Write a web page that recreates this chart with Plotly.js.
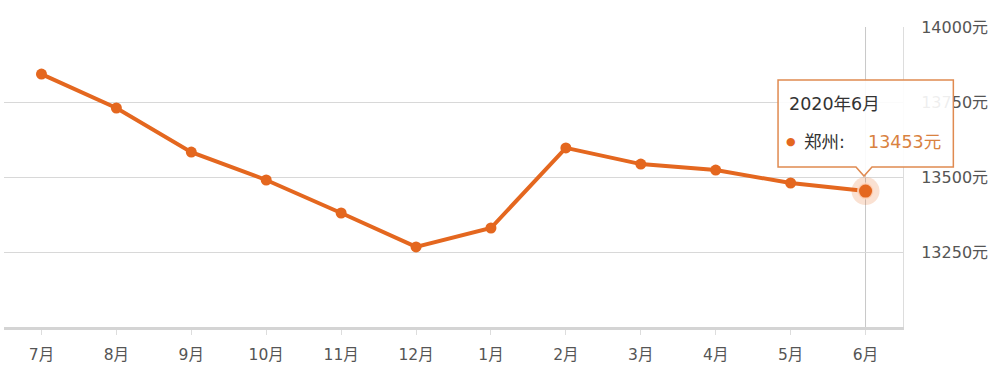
<!DOCTYPE html>
<html>
<head>
<meta charset="utf-8">
<script src="https://cdn.plot.ly/plotly-3.0.1.min.js"></script>
<style>html,body{margin:0;padding:0;background:#fff;}#chart{width:1000px;height:372px;}</style>
</head>
<body>
<div id="chart"></div>
<script>
const months = ["7月","8月","9月","10月","11月","12月","1月","2月","3月","4月","5月","6月"];
const prices = [13843, 13730, 13583, 13490, 13380, 13267, 13330, 13597, 13543, 13523, 13480, 13453];
const yTickVals = [13250, 13500, 13750, 14000];
const yTickText = ["13250元", "13500元", "13750元", "14000元"];
const cityName = "郑州";
const tooltipTitle = "2020年6月";

const orange = "#e4671f";
const font = "DejaVu Sans, Noto Sans CJK SC, sans-serif";
const lastIdx = prices.length - 1;

const traces = [
  {
    x: [months[lastIdx]], y: [prices[lastIdx]],
    type: "scatter", mode: "markers",
    marker: {size: 28, color: "rgba(228,103,31,0.2)", line: {width: 0}},
    hoverinfo: "skip", showlegend: false
  },
  {
    x: months, y: prices,
    type: "scatter", mode: "lines+markers",
    line: {color: orange, width: 4},
    marker: {size: 11, color: orange, line: {width: 0}},
    hoverinfo: "skip", showlegend: false
  },
  {
    x: [months[lastIdx]], y: [prices[lastIdx]],
    type: "scatter", mode: "markers",
    marker: {size: 15, color: orange, line: {width: 2, color: "rgba(255,220,200,0.8)"}},
    hoverinfo: "skip", showlegend: false
  }
];

const layout = {
  width: 1000, height: 372,
  margin: {l: 4, r: 97, t: 27, b: 45},
  paper_bgcolor: "#fff", plot_bgcolor: "#fff",
  font: {family: font, size: 16, color: "#555"},
  xaxis: {
    type: "category",
    categoryorder: "array", categoryarray: months,
    range: [-0.5, months.length - 0.5],
    showgrid: false, zeroline: false,
    showline: true, linecolor: "#d4d4d4", linewidth: 3,
    ticks: "outside", ticklen: 5, tickcolor: "#ddd", tickwidth: 1,
    ticklabelstandoff: 6,
    tickfont: {family: font, size: 15.5, color: "#555"}
  },
  yaxis: {
    side: "right",
    range: [13000, 14000],
    tickvals: yTickVals, ticktext: yTickText,
    showgrid: true, gridcolor: "#d8d8d8", gridwidth: 1,
    zeroline: false,
    showline: true, linecolor: "#dddddd", linewidth: 1, mirror: false,
    ticks: "", ticklabelstandoff: 14,
    tickfont: {family: font, size: 16, color: "#555"}
  },
  shapes: [
    {type: "line", xref: "x", yref: "paper", x0: months[lastIdx], x1: months[lastIdx], y0: 0, y1: 1,
     line: {color: "#c8c8c8", width: 1}, layer: "below"},
    {type: "path", xref: "paper", yref: "paper",
     path: "M 0.861,0.823 L 1.056,0.823 L 1.056,0.533 L 0.9655,0.533 L 0.9566,0.503 L 0.9477,0.533 L 0.861,0.533 Z",
     fillcolor: "rgba(255,255,255,0.9)", line: {color: "#e08a50", width: 1.5}, layer: "above"}
  ],
  annotations: [
    {xref: "paper", yref: "paper", x: 0.871, y: 0.743, xanchor: "left", yanchor: "middle",
     showarrow: false, text: tooltipTitle, font: {family: font, size: 17.5, color: "#333"}},
    {xref: "paper", yref: "paper", x: 0.8751, y: 0.617, xanchor: "center", yanchor: "middle",
     showarrow: false, text: "●", font: {family: font, size: 11, color: orange}},
    {xref: "paper", yref: "paper", x: 0.8875, y: 0.617, xanchor: "left", yanchor: "middle",
     showarrow: false, text: cityName + ":", font: {family: font, size: 17.5, color: "#333"}},
    {xref: "paper", yref: "paper", x: 0.9585, y: 0.617, xanchor: "left", yanchor: "middle",
     showarrow: false, text: prices[lastIdx] + "元", font: {family: font, size: 17.5, color: "#d9823f"}}
  ]
};

Plotly.newPlot("chart", traces, layout, {displayModeBar: false, staticPlot: true});
</script>
</body>
</html>
